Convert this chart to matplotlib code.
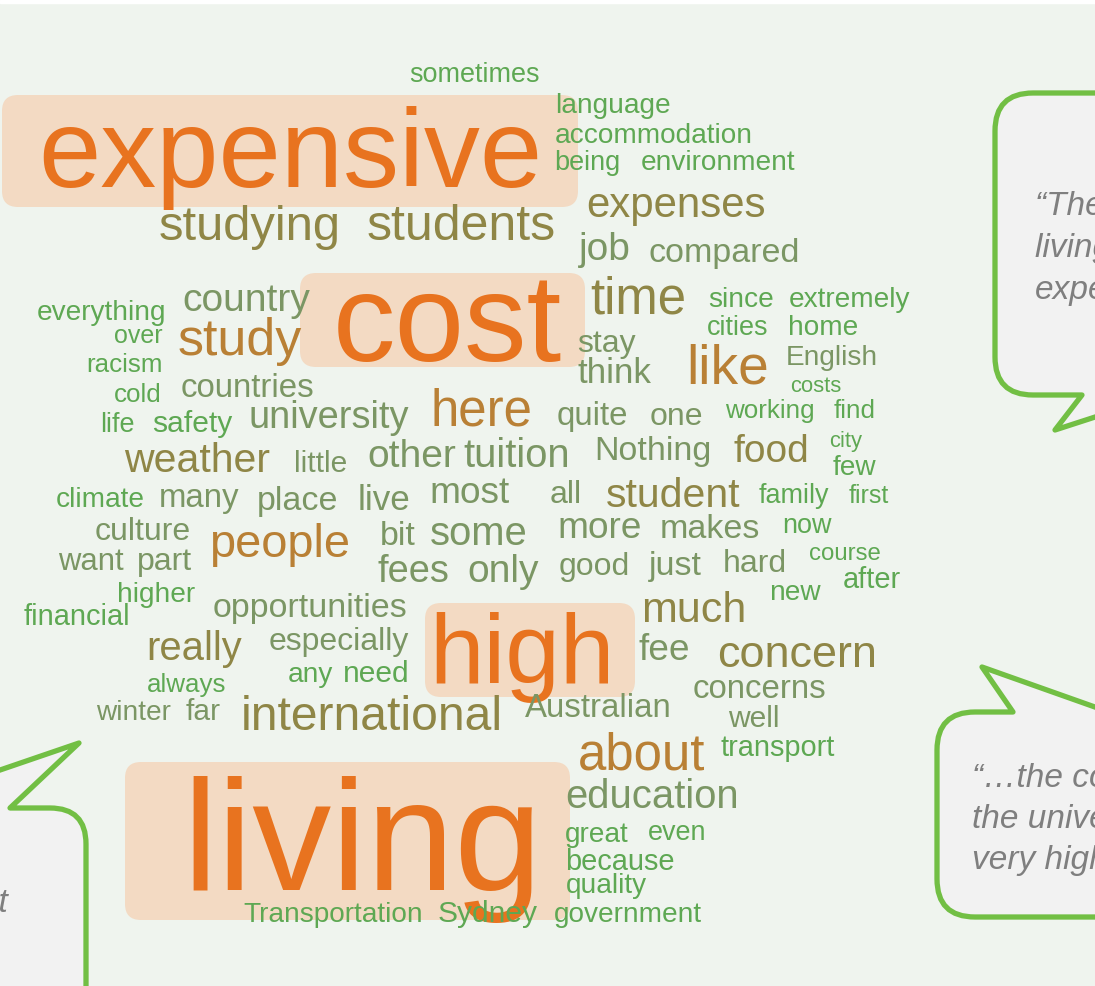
import matplotlib
matplotlib.use("Agg")
import matplotlib.pyplot as plt
from matplotlib.patches import FancyBboxPatch, PathPatch, Rectangle
from matplotlib.path import Path

plt.rcParams['font.family'] = ['Liberation Sans', 'DejaVu Sans']

# word cloud data: word and its weight (pixel em size of the word)
words = ["sometimes", "expensive", "language", "accommodation", "being", "environment",
         "studying", "students", "expenses", "job", "compared", "everything", "country",
         "cost", "time", "since", "extremely", "cities", "home", "over", "study", "stay",
         "racism", "English", "like", "think", "cold", "countries", "costs", "life",
         "safety", "university", "here", "quite", "one", "working", "find", "weather",
         "little", "other", "tuition", "Nothing", "food", "city", "few", "climate", "many",
         "place", "live", "most", "all", "student", "family", "first", "culture", "people",
         "bit", "some", "more", "makes", "now", "want", "part", "fees", "only", "good",
         "just", "hard", "course", "higher", "financial", "opportunities", "new", "after",
         "much", "really", "especially", "high", "fee", "concern", "always", "any", "need",
         "concerns", "winter", "far", "international", "Australian", "well", "about",
         "transport", "living", "education", "great", "even", "because", "quality",
         "Transportation", "Sydney", "government"]
freq = [27, 112, 28, 28, 27, 28,
        49, 50, 42, 39, 34, 28, 39,
        125, 51, 28, 28, 27, 28, 25, 52, 32,
        26, 28, 55, 35, 26, 33, 22, 27,
        30, 38, 51, 33, 32, 26, 26, 41,
        30, 39, 40, 34, 39, 22, 28, 28, 33,
        34, 35, 37, 32, 41, 27, 25, 32, 47,
        34, 40, 37, 34, 27, 31, 32, 38, 39, 32,
        34, 32, 24, 28, 29, 34, 28, 29,
        43, 40, 32, 98, 37, 45, 26, 28, 30,
        33, 28, 30, 48, 33, 30, 51,
        29, 158, 40, 28, 27, 29, 28,
        28, 30, 28]
highlight = ["expensive", "cost", "high", "living"]

quote_tr = ["\u201cThe cost of", "living is very", "expensive\u201d"]
quote_br = ["\u201c\u2026the cost of", "the university is", "very high\u201d"]
quote_bl = ["\u201cThe living cost"]

# layout: centre x and baseline y of each word (pixels), and colour class
pos_x = [474, 290, 613, 654, 587, 718,
         250, 461, 676, 605, 724, 102, 246,
         447, 638, 741, 850, 738, 823, 138, 240, 606,
         125, 832, 728, 615, 138, 248, 816, 117,
         192, 329, 481, 592, 676, 770, 855, 197,
         321, 412, 517, 653, 771, 846, 854, 100, 199,
         298, 384, 470, 566, 673, 794, 869, 143, 280,
         398, 479, 600, 710, 807, 91, 165, 413, 503, 594,
         675, 755, 845, 156, 77, 310, 795, 872,
         694, 194, 339, 522, 664, 797, 187, 310, 376,
         760, 133, 203, 372, 598, 754, 642,
         778, 362, 652, 597, 677, 620, 606,
         333, 488, 628]
pos_y = [82, 187, 113, 143, 170, 170,
         240, 240, 217, 260, 262, 320, 311,
         361, 313, 307, 307, 335, 335, 343, 355, 352,
         372, 365, 383, 383, 402, 397, 392, 432,
         432, 428, 425, 425, 425, 418, 418, 472,
         472, 467, 467, 460, 462, 447, 475, 507, 507,
         510, 510, 503, 503, 507, 503, 503, 540, 557,
         545, 545, 538, 538, 533, 570, 570, 582, 582, 575,
         575, 572, 560, 602, 625, 617, 600, 588,
         622, 660, 650, 683, 660, 667, 692, 682, 682,
         698, 720, 720, 730, 717, 727, 770,
         756, 890, 808, 842, 840, 870, 893,
         922, 922, 922]
shade = list("LOLLLL"
             "KKKGGLG"
             "OKLLLLLBG"
             "LGBGLGLL"
             "LGBGGLLK"
             "GGGGKLLLG"
             "GGGGKLLGB"
             "GGGGLGGGGG"
             "GGLLLGLL"
             "KKGOGKLLL"
             "GGGKGGB"
             "LOGLLLL"
             "LLL")
palette = {"O": "#e8731f", "B": "#b98035", "K": "#8f8646",
           "G": "#7b9664", "L": "#5ea853"}
boxes = {"expensive": (2, 95, 578, 207), "cost": (300, 273, 585, 367),
         "high": (425, 603, 635, 697), "living": (125, 762, 570, 920)}


def bubble(x0, y0, x1, y1, r, side, ta, tb, tip):
    verts, codes = [], []

    def line(p):
        verts.append(p)
        codes.append(Path.LINETO)

    def corner(c, p):
        verts.extend([c, p])
        codes.extend([Path.CURVE3, Path.CURVE3])

    verts.append((x0 + r, y0))
    codes.append(Path.MOVETO)
    if side == "top":
        line((ta, y0)); line(tip); line((tb, y0))
    line((x1 - r, y0)); corner((x1, y0), (x1, y0 + r))
    line((x1, y1 - r)); corner((x1, y1), (x1 - r, y1))
    if side == "bottom":
        line((tb, y1)); line(tip); line((ta, y1))
    line((x0 + r, y1)); corner((x0, y1), (x0, y1 - r))
    line((x0, y0 + r)); corner((x0, y0), (x0 + r, y0))
    verts.append((0, 0))
    codes.append(Path.CLOSEPOLY)
    return Path(verts, codes)


fig = plt.figure(figsize=(10.95, 9.86), dpi=100, facecolor="#eff4ee")
ax = fig.add_axes([0, 0, 1, 1])
ax.set_xlim(0, 1095)
ax.set_ylim(986, 0)
ax.axis("off")
ax.add_patch(Rectangle((0, 0), 1095, 3, color="white", zorder=0))

for w in highlight:
    x0, y0, x1, y1 = boxes[w]
    ax.add_patch(FancyBboxPatch((x0, y0), x1 - x0, y1 - y0,
                                boxstyle="round,pad=0,rounding_size=16",
                                fc="#f3dac3", ec="none", zorder=1))

for w, f, x, y, s in zip(words, freq, pos_x, pos_y, shade):
    ax.text(x, y, w, fontsize=f * 0.72, color=palette[s],
            ha="center", va="baseline", zorder=2)

# speech bubbles
bubble_style = dict(fc="#f2f2f2", ec="#72bf44", lw=3.8, joinstyle="round", zorder=3)
ax.add_patch(PathPatch(bubble(995, 93, 1300, 395, 38, "bottom", 1082, 1163, (1055, 430)),
                       **bubble_style))
ax.add_patch(PathPatch(bubble(937, 712, 1300, 917, 38, "top", 1013, 1109, (982, 667)),
                       **bubble_style))
ax.add_patch(PathPatch(bubble(-300, 808, 86, 1150, 36, "top", -111, 10, (79, 743)),
                       **bubble_style))

qstyle = dict(fontsize=24, style="italic", color="#7f7f7f", va="baseline", zorder=4)
for i, line in enumerate(quote_tr):
    ax.text(1035, 215 + 42 * i, line, ha="left", **qstyle)
for i, line in enumerate(quote_br):
    ax.text(972, 787 + 41 * i, line, ha="left", **qstyle)
for line in quote_bl:
    ax.text(8, 912, line, ha="right", **qstyle)

fig.savefig("out.png", dpi=100, facecolor=fig.get_facecolor())
